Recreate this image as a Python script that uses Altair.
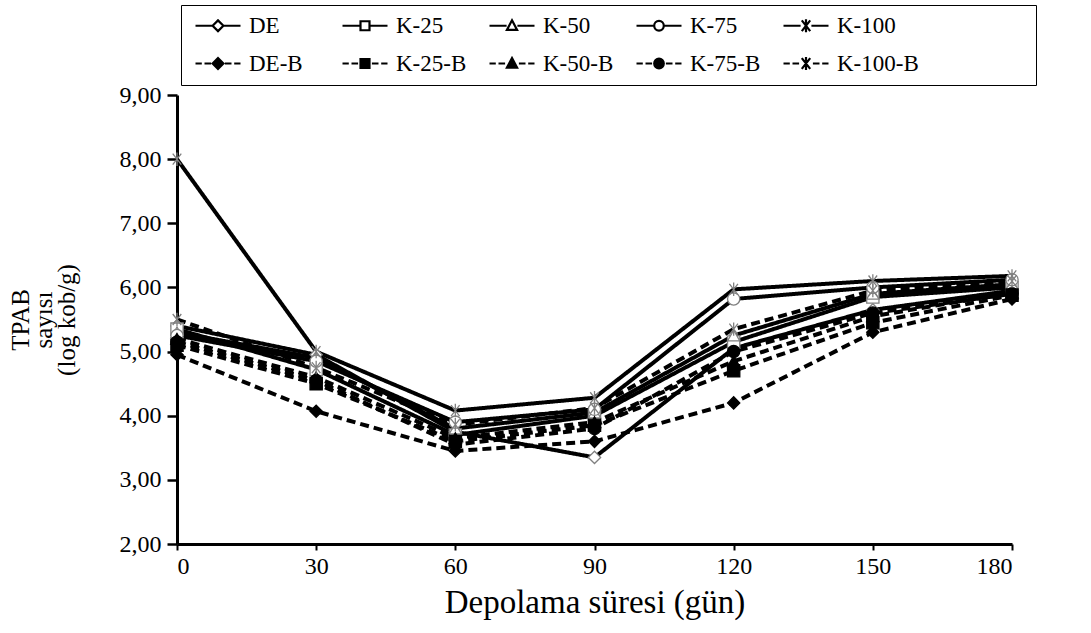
import altair as alt
import pandas as pd

days = [0, 30, 60, 90, 120, 150, 180]
series_names = ["DE", "K-25", "K-50", "K-75", "K-100",
                "DE-B", "K-25-B", "K-50-B", "K-75-B", "K-100-B"]

DE = [5.40, 4.95, 3.75, 3.35, 5.05, 5.65, 5.95]
K25 = [5.35, 4.72, 3.70, 4.00, 5.15, 5.85, 6.00]
K50 = [5.30, 4.90, 3.80, 4.05, 5.25, 5.90, 6.05]
K75 = [5.25, 4.85, 3.90, 4.10, 5.82, 6.00, 6.12]
K100 = [8.00, 5.00, 4.08, 4.28, 5.97, 6.10, 6.18]
DE_B = [4.95, 4.07, 3.45, 3.60, 4.20, 5.30, 5.82]
K25_B = [5.10, 4.50, 3.60, 3.85, 4.70, 5.45, 5.88]
K50_B = [5.20, 4.60, 3.65, 3.90, 4.85, 5.55, 5.92]
K75_B = [5.15, 4.55, 3.55, 3.80, 5.00, 5.60, 5.90]
K100_B = [5.50, 4.75, 3.86, 4.12, 5.35, 5.95, 6.10]

values = {"DE": DE, "K-25": K25, "K-50": K50, "K-75": K75, "K-100": K100,
          "DE-B": DE_B, "K-25-B": K25_B, "K-50-B": K50_B, "K-75-B": K75_B,
          "K-100-B": K100_B}

rows = []
for name in series_names:
    for d, v in zip(days, values[name]):
        rows.append({"series": name, "day": d, "value": v})
df = pd.DataFrame(rows)

FONT = "Liberation Serif"

# marker shapes for the plotted points
ASTER = "M-0.7,-0.9L0.7,0.9M-0.7,0.9L0.7,-0.9M0,-1.1L0,1.1"
point_shapes = ["diamond", "square", "triangle-up", "circle", ASTER,
                "diamond", "square", "triangle-up", "circle", ASTER]
point_fill = ["white"] * 4 + ["transparent"] + ["black"] * 4 + ["transparent"]
point_stroke = ["#808080"] * 5 + ["black"] * 4 + ["#808080"]


# legend glyphs: line (solid/dashed) with marker in the middle
def glyph(marker, dashed):
    if dashed:
        segs = [(-1, 0.05), (0.5, 1.6), (3.9, 5.0), (5.45, 6.5)]
    else:
        segs = [(-1, 1.85), (3.65, 6.5)]
    p = "".join(f"M{a},0H{b}" for a, b in segs)
    cx = 2.75
    if marker == "diamond":
        p += f"M{cx-0.9},0L{cx},-0.9L{cx+0.9},0L{cx},0.9Z"
    elif marker == "square":
        p += f"M{cx-0.75},-0.75H{cx+0.75}V0.75H{cx-0.75}Z"
    elif marker == "triangle":
        p += f"M{cx},-0.9L{cx+0.85},0.7H{cx-0.85}Z"
    elif marker == "circle":
        p += f"M{cx-0.8},0A0.8,0.8 0 1,0 {cx+0.8},0A0.8,0.8 0 1,0 {cx-0.8},0Z"
    else:
        p += f"M{cx-0.7},-0.9L{cx+0.7},0.9M{cx-0.7},0.9L{cx+0.7},-0.9M{cx},-1.1L{cx},1.1"
    return p


markers = ["diamond", "square", "triangle", "circle", "aster"]
legend_shapes = [glyph(m, False) for m in markers] + [glyph(m, True) for m in markers]
legend_fill = ["white"] * 5 + ["black"] * 5
legend_stroke = ["black"] * 10
dash_range = [[1, 0]] * 5 + [[9, 5]] * 5

x_enc = alt.X("day:Q",
              scale=alt.Scale(domain=[0, 180], nice=False),
              axis=alt.Axis(values=days, title="Depolama süresi  (gün)",
                            labelFont=FONT, labelFontSize=24, labelColor="black",
                            titleFont=FONT, titleFontSize=33, titleFontWeight="normal",
                            titleColor="black", titlePadding=8,
                            domainColor="black", domainWidth=3,
                            tickColor="black", tickWidth=2, tickSize=6,
                            labelPadding=4, grid=False))
y_enc = alt.Y("value:Q",
              scale=alt.Scale(domain=[2, 9], nice=False),
              axis=alt.Axis(values=[2, 3, 4, 5, 6, 7, 8, 9],
                            labelExpr="replace(format(datum.value, '.2f'), '.', ',')",
                            title=["TPAB", "sayısı", "(log kob/g)"],
                            labelFont=FONT, labelFontSize=24, labelColor="black",
                            titleFont=FONT, titleFontSize=25, titleFontWeight="normal",
                            titleColor="#000000", titlePadding=40, titleLineHeight=23,
                            domainColor="black", domainWidth=3,
                            tickColor="black", tickWidth=2.5, tickSize=10,
                            labelPadding=6, grid=False))

base = alt.Chart(df)

lines = base.mark_line(color="black", strokeWidth=4).encode(
    x=x_enc, y=y_enc,
    detail="series:N",
    strokeDash=alt.StrokeDash("series:N",
                              scale=alt.Scale(domain=series_names, range=dash_range),
                              legend=None),
)

points = base.mark_point(filled=True, size=150, strokeWidth=1.3, opacity=1).encode(
    x="day:Q", y="value:Q",
    shape=alt.Shape("series:N",
                    scale=alt.Scale(domain=series_names, range=point_shapes),
                    legend=None),
    fill=alt.Fill("series:N",
                  scale=alt.Scale(domain=series_names, range=point_fill),
                  legend=None),
    stroke=alt.Stroke("series:N",
                      scale=alt.Scale(domain=series_names, range=point_stroke),
                      legend=None),
)

legend_def = alt.Legend(
    title=" ", titleOrient="right", titlePadding=108, titleFontSize=10,
    orient="none", legendX=4, legendY=-90, direction="horizontal",
    columns=5, columnPadding=6, rowPadding=14, gridAlign="all",
    symbolSize=144, symbolStrokeWidth=2.2,
    symbolOpacity=1, labelOffset=36,
    labelFont=FONT, labelFontSize=23, labelColor="black", labelLimit=300,
    padding=9, strokeColor="black", fillColor="white",
)

legend_layer = base.mark_point(filled=True, size=0, opacity=0).encode(
    x="day:Q", y="value:Q",
    shape=alt.Shape("series:N",
                    scale=alt.Scale(domain=series_names, range=legend_shapes),
                    legend=legend_def),
    fill=alt.Fill("series:N",
                  scale=alt.Scale(domain=series_names, range=legend_fill),
                  legend=legend_def),
    stroke=alt.Stroke("series:N",
                      scale=alt.Scale(domain=series_names, range=legend_stroke),
                      legend=legend_def),
)

chart = alt.layer(lines, points, legend_layer).resolve_scale(
    shape="independent", fill="independent", stroke="independent",
    strokeDash="independent"
).properties(
    width=835, height=449,
    autosize=alt.AutoSizeParams(type="none"),
    padding={"left": 177, "top": 95, "right": 79, "bottom": 89},
    background="white",
).configure(font=FONT).configure_view(stroke=None)

chart.save("out.html", embed_options={"renderer": "svg", "actions": False})
